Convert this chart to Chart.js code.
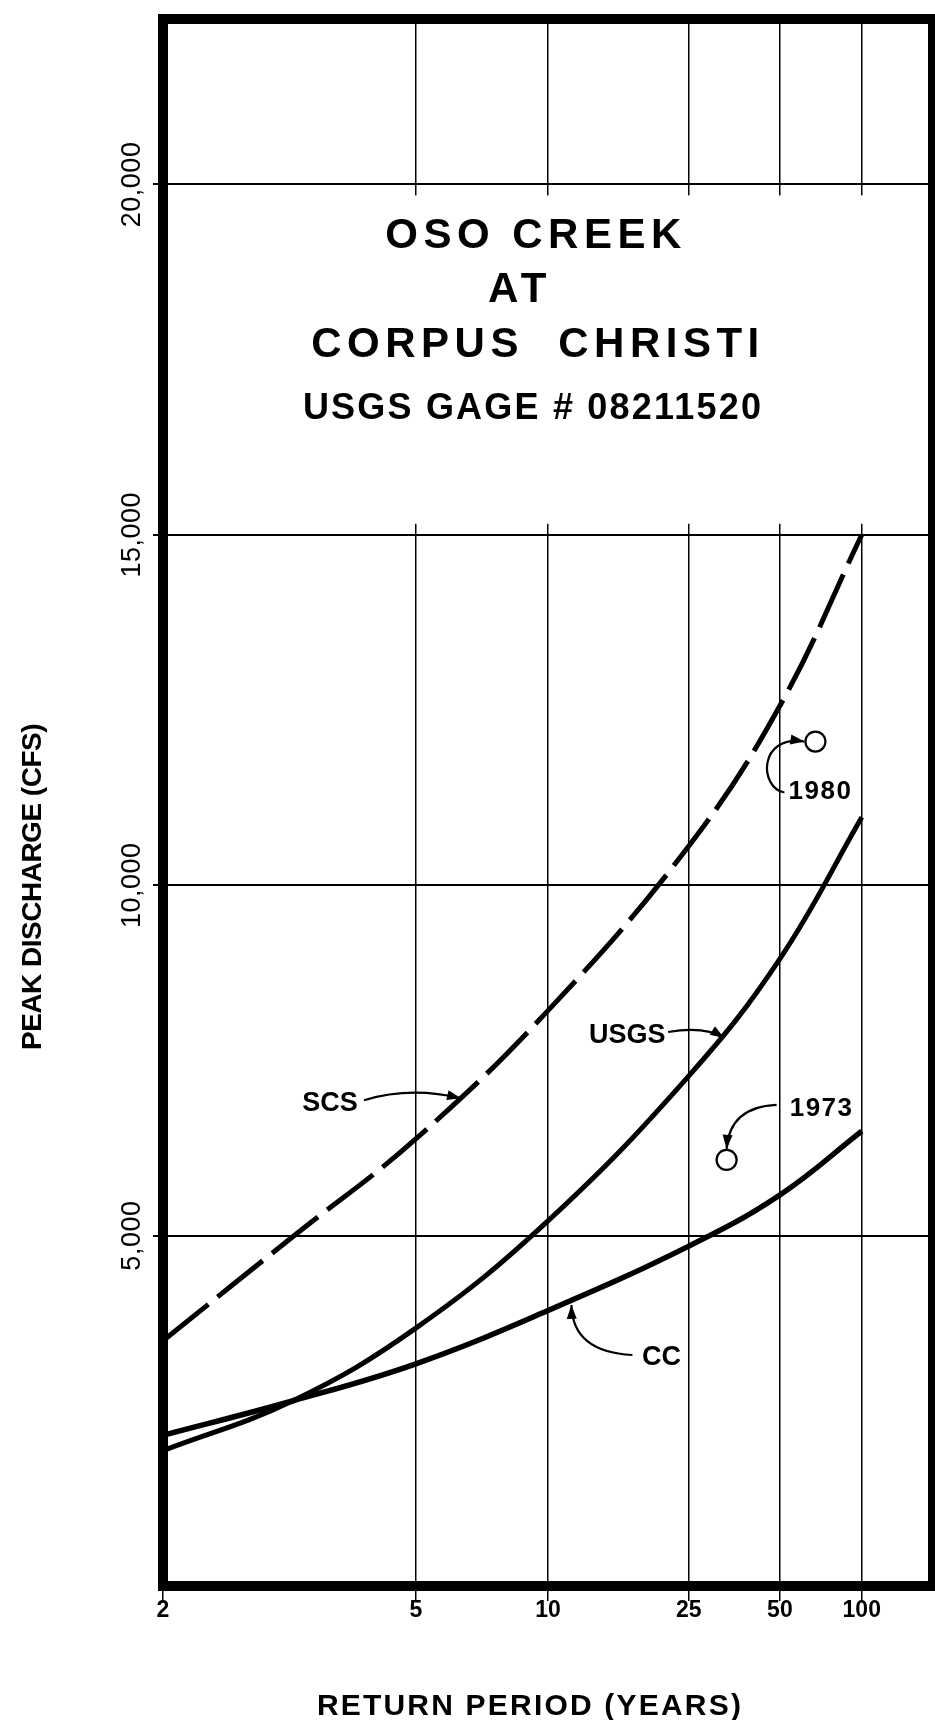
<!DOCTYPE html>
<html>
<head>
<meta charset="utf-8">
<script src="https://cdn.jsdelivr.net/npm/chart.js@4.4.1/dist/chart.umd.min.js"></script>
<style>
  html, body { margin: 0; padding: 0; background: #fff; }
  canvas { display: block; }
</style>
</head>
<body>
<canvas id="chart" width="935" height="1720"></canvas>
<script>
'use strict';

// frequency curves (return period in years, peak flow in cfs)
var returnPeriods = [2, 3, 5, 10, 25, 50, 100];
var scsFlows  = [3500, 4980, 6380, 8210, 10560, 12560, 15000];
var usgsFlows = [1930, 2640, 3680, 5210, 7280, 8950, 10970];
var ccFlows   = [2150, 2640, 3170, 3930, 4850, 5580, 6490];

// observed floods
var floodYears   = ['1980', '1973'];
var floodPeriods = [67, 33];
var floodFlows   = [12050, 6080];

var xTicks = [2, 5, 10, 25, 50, 100];
var yTicks = [5000, 10000, 15000, 20000];
var yTickLabels = ['5,000', '10,000', '15,000', '20,000'];

// inverse of the standard normal cdf (Acklam)
function normInv(p) {
  var a = [-3.969683028665376e+01, 2.209460984245205e+02, -2.759285104469687e+02, 1.383577518672690e+02, -3.066479806614716e+01, 2.506628277459239e+00];
  var b = [-5.447609879822406e+01, 1.615858368580409e+02, -1.556989798598866e+02, 6.680131188771972e+01, -1.328068155288572e+01];
  var c = [-7.784894002430293e-03, -3.223964580411365e-01, -2.400758277161838e+00, -2.549732539343734e+00, 4.374664141464968e+00, 2.938163982698783e+00];
  var d = [7.784695709041462e-03, 3.224671290700398e-01, 2.445134137142996e+00, 3.754408661907416e+00];
  var pl = 0.02425, q, r;
  if (p < pl) {
    q = Math.sqrt(-2 * Math.log(p));
    return (((((c[0]*q+c[1])*q+c[2])*q+c[3])*q+c[4])*q+c[5]) / ((((d[0]*q+d[1])*q+d[2])*q+d[3])*q+1);
  }
  if (p <= 1 - pl) {
    q = p - 0.5; r = q * q;
    return (((((a[0]*r+a[1])*r+a[2])*r+a[3])*r+a[4])*r+a[5])*q / (((((b[0]*r+b[1])*r+b[2])*r+b[3])*r+b[4])*r+1);
  }
  q = Math.sqrt(-2 * Math.log(1 - p));
  return -(((((c[0]*q+c[1])*q+c[2])*q+c[3])*q+c[4])*q+c[5]) / ((((d[0]*q+d[1])*q+d[2])*q+d[3])*q+1);
}

function normCdf(z) {
  var t = 1 / (1 + 0.2316419 * Math.abs(z));
  var d = 0.3989423 * Math.exp(-z * z / 2);
  var p = d * t * (0.3193815 + t * (-0.3565638 + t * (1.781478 + t * (-1.821256 + t * 1.330274))));
  return z > 0 ? 1 - p : p;
}

function zOf(T) { return normInv(1 - 1 / T); }

// probability paper axis: return period placed by normal quantile of non-exceedance
class ReturnPeriodScale extends Chart.Scale {
  determineDataLimits() {
    this.min = this.options.min;
    this.max = this.options.max;
  }
  buildTicks() {
    return xTicks.map(function (v) { return { value: v }; });
  }
  getLabelForValue(v) { return String(v); }
  configure() {
    super.configure();
    this._zMin = zOf(this.min);
    this._zMax = zOf(this.max);
  }
  getPixelForValue(v) {
    return this.getPixelForDecimal((zOf(v) - this._zMin) / (this._zMax - this._zMin));
  }
  getValueForPixel(px) {
    var z = this._zMin + this.getDecimalForPixel(px) * (this._zMax - this._zMin);
    return 1 / (1 - normCdf(z));
  }
}
ReturnPeriodScale.id = 'returnPeriod';
ReturnPeriodScale.defaults = {};
Chart.register(ReturnPeriodScale);

function toPoints(xs, ys) {
  return xs.map(function (x, i) { return { x: x, y: ys[i] }; });
}

var FONT = 'Liberation Sans';

// call-outs: anchor in data space, everything else in pixel offsets from it
var callouts = [
  { text: 'SCS', at: [6.23, 6960], label: [-131, 13], curve: [[-97, 2], [-51, -12], [0, 0]], size: 27, spacing: 0 },
  { text: 'USGS', at: [32.4, 7820], label: [-97, 5], curve: [[-56, -6], [-19, -12], [0, 0]], size: 27, spacing: 0 },
  { text: 'CC', at: [11.5, 4010], label: [90, 60], curve: [[61, 50], [1, 47], [0, 0]], size: 27, spacing: 0 },
  { text: floodYears[1], at: [floodPeriods[1], floodFlows[1]], label: [95, -44], curve: [[50, -55], [3, -53], [0, -11]], size: 26, spacing: 1.5 },
  { text: floodYears[0], at: [floodPeriods[0], floodFlows[0]], label: [5, 57], curve: [[-31, 51], [-56, 47], [-58, -7], [-11, 0]], size: 26, spacing: 1.5 }
];

function drawText(ctx, text, x, y, font, spacing, rotate) {
  ctx.save();
  ctx.translate(x, y);
  if (rotate) ctx.rotate(-Math.PI / 2);
  ctx.font = font;
  ctx.letterSpacing = (spacing || 0) + 'px';
  ctx.textAlign = 'center';
  ctx.textBaseline = 'alphabetic';
  ctx.fillStyle = '#000';
  ctx.fillText(text, 0, 0);
  ctx.restore();
}

var blankTitleBox = {
  id: 'blankTitleBox',
  beforeDatasetsDraw: function (chart) {
    var ctx = chart.ctx, a = chart.chartArea, y = chart.scales.y;
    var top = y.getPixelForValue(20000) + 11;
    var bottom = y.getPixelForValue(15000) - 11;
    ctx.save();
    ctx.fillStyle = '#fff';
    ctx.fillRect(a.left, top, a.right - a.left, bottom - top);
    ctx.restore();
  }
};

var paper = {
  id: 'paper',
  afterDraw: function (chart) {
    var ctx = chart.ctx, a = chart.chartArea;
    var xs = chart.scales.x, ys = chart.scales.y;

    ctx.save();
    ctx.strokeStyle = '#000';
    ctx.lineWidth = 10;
    ctx.strokeRect(a.left, a.top, a.right - a.left, a.bottom - a.top);
    ctx.restore();

    // y tick labels, turned
    yTicks.forEach(function (v, i) {
      drawText(ctx, yTickLabels[i], 140, ys.getPixelForValue(v), '27px "' + FONT + '"', 0.5, true);
    });

    drawText(ctx, 'PEAK DISCHARGE (CFS)', 41, 887, 'bold 28px "' + FONT + '"', -0.5, true);
    drawText(ctx, 'RETURN PERIOD (YEARS)', 530, 1715, 'bold 30px "' + FONT + '"', 2.2, false);

    drawText(ctx, 'OSO CREEK', 536, 248, 'bold 42px "' + FONT + '"', 5.5, false);
    drawText(ctx, 'AT', 520, 302, 'bold 42px "' + FONT + '"', 5.5, false);
    drawText(ctx, 'CORPUS  CHRISTI', 538, 357, 'bold 42px "' + FONT + '"', 5.5, false);
    drawText(ctx, 'USGS GAGE # 08211520', 533, 419, 'bold 36px "' + FONT + '"', 2.2, false);

    callouts.forEach(function (c) {
      var ax = xs.getPixelForValue(c.at[0]);
      var ay = ys.getPixelForValue(c.at[1]);
      drawText(ctx, c.text, ax + c.label[0], ay + c.label[1], 'bold ' + c.size + 'px "' + FONT + '"', c.spacing, false);

      var p = c.curve.map(function (o) { return [ax + o[0], ay + o[1]]; });
      ctx.save();
      ctx.strokeStyle = '#000';
      ctx.fillStyle = '#000';
      ctx.lineWidth = 2.2;
      ctx.beginPath();
      ctx.moveTo(p[0][0], p[0][1]);
      if (p.length === 3) ctx.quadraticCurveTo(p[1][0], p[1][1], p[2][0], p[2][1]);
      else ctx.bezierCurveTo(p[1][0], p[1][1], p[2][0], p[2][1], p[3][0], p[3][1]);
      ctx.stroke();

      var tip = p[p.length - 1], prev = p[p.length - 2];
      var ang = Math.atan2(tip[1] - prev[1], tip[0] - prev[0]);
      ctx.translate(tip[0], tip[1]);
      ctx.rotate(ang);
      ctx.beginPath();
      ctx.moveTo(0, 0);
      ctx.lineTo(-14, -5);
      ctx.lineTo(-14, 5);
      ctx.closePath();
      ctx.fill();
      ctx.restore();
    });
  }
};

Chart.defaults.font.family = FONT;
Chart.defaults.color = '#000';

new Chart(document.getElementById('chart'), {
  type: 'line',
  data: {
    datasets: [
      {
        label: 'SCS',
        data: toPoints(returnPeriods, scsFlows),
        borderColor: '#000',
        borderWidth: 5,
        borderDash: [58, 12],
        borderCapStyle: 'butt',
        pointRadius: 0,
        tension: 0.4
      },
      {
        label: 'USGS',
        data: toPoints(returnPeriods, usgsFlows),
        borderColor: '#000',
        borderWidth: 5,
        pointRadius: 0,
        tension: 0.4
      },
      {
        label: 'CC',
        data: toPoints(returnPeriods, ccFlows),
        borderColor: '#000',
        borderWidth: 5.5,
        pointRadius: 0,
        tension: 0.4
      },
      {
        label: 'Floods',
        data: toPoints(floodPeriods, floodFlows),
        showLine: false,
        pointRadius: 10,
        pointBorderWidth: 2.2,
        pointBorderColor: '#000',
        pointBackgroundColor: '#fff'
      },
      {
        label: 'Flood centres',
        data: toPoints(floodPeriods, floodFlows),
        showLine: false,
        pointRadius: 2.5,
        pointBorderWidth: 0,
        pointBackgroundColor: '#000'
      }
    ]
  },
  options: {
    responsive: false,
    animation: false,
    events: [],
    devicePixelRatio: 1,
    layout: { autoPadding: false, padding: { top: 19, right: 2, left: 0, bottom: 0 } },
    plugins: {
      legend: { display: false },
      tooltip: { enabled: false }
    },
    scales: {
      x: {
        type: 'returnPeriod',
        min: 2,
        max: 193,
        border: { display: false },
        grid: { color: '#000', lineWidth: 1.5, drawTicks: true, tickLength: 15, tickWidth: 1.5 },
        ticks: {
          font: { size: 23, weight: 'bold' },
          color: '#000',
          padding: -4,
          maxRotation: 0,
          autoSkip: false
        },
        afterFit: function (s) { s.height = 134; }
      },
      y: {
        type: 'linear',
        min: 0,
        max: 22360,
        border: { display: false },
        grid: { color: '#000', lineWidth: 2, drawTicks: true, tickLength: 10, tickWidth: 2 },
        ticks: { display: false },
        afterBuildTicks: function (s) {
          s.ticks = yTicks.map(function (v) { return { value: v }; });
        },
        afterFit: function (s) { s.width = 163; }
      }
    }
  },
  plugins: [blankTitleBox, paper]
});
</script>
</body>
</html>
